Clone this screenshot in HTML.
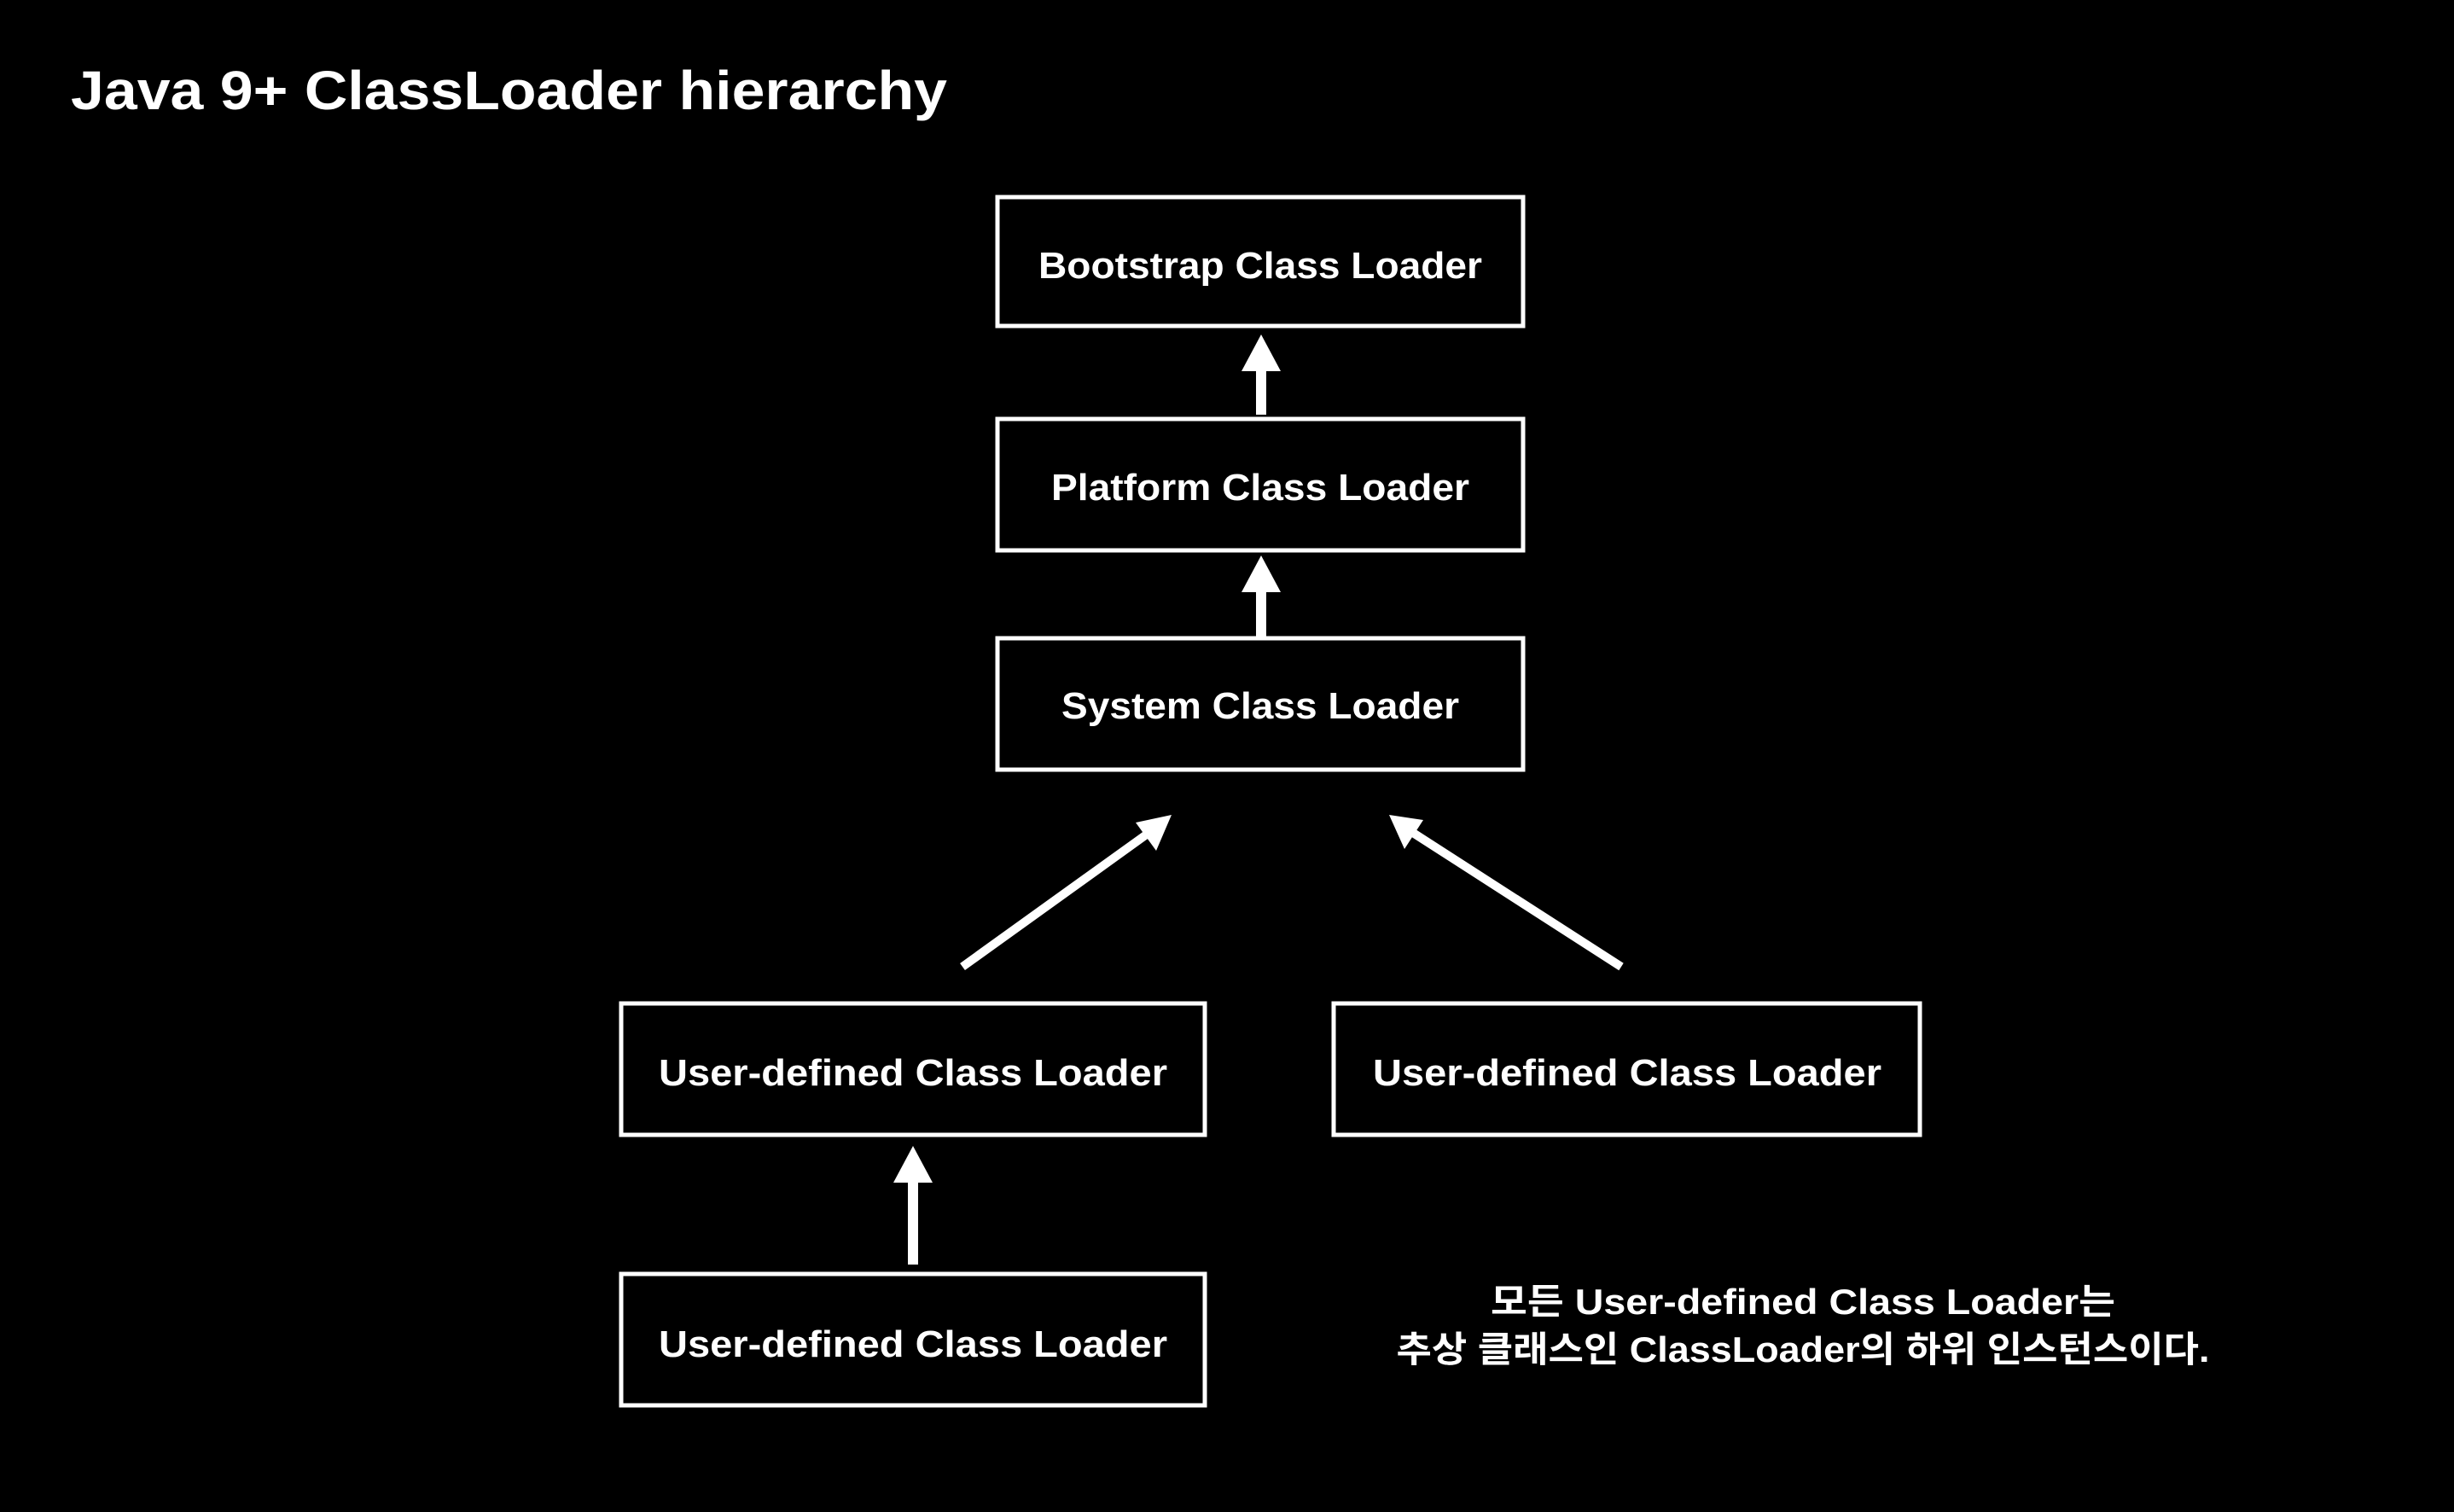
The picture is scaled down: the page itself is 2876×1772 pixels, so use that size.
<!DOCTYPE html>
<html><head><meta charset="utf-8"><style>
html,body{margin:0;padding:0;background:#000;}
svg{display:block;}
text{font-family:"Liberation Sans","Noto Sans CJK KR",sans-serif;font-weight:bold;fill:#fff;}
</style></head><body>
<svg width="2876" height="1772" viewBox="0 0 2876 1772" xmlns="http://www.w3.org/2000/svg">
<rect width="2876" height="1772" fill="#000"/>
<text x="83" y="128" font-size="64" textLength="1027" lengthAdjust="spacingAndGlyphs">Java 9+ ClassLoader hierarchy</text>
<g fill="none" stroke="#fff" stroke-width="5">
<rect x="1169" y="231" width="616" height="151"/>
<rect x="1169" y="491" width="616" height="154"/>
<rect x="1169" y="748" width="616" height="154"/>
<rect x="728" y="1176" width="684" height="154"/>
<rect x="1563" y="1176" width="687" height="154"/>
<rect x="728" y="1493" width="684" height="154"/>
</g>
<g font-size="44" text-anchor="middle">
<text x="1477" y="326" textLength="520" lengthAdjust="spacingAndGlyphs">Bootstrap Class Loader</text>
<text x="1477" y="586" textLength="490" lengthAdjust="spacingAndGlyphs">Platform Class Loader</text>
<text x="1477" y="842" textLength="466" lengthAdjust="spacingAndGlyphs">System Class Loader</text>
<text x="1070" y="1272" textLength="596" lengthAdjust="spacingAndGlyphs">User-defined Class Loader</text>
<text x="1907" y="1272" textLength="596" lengthAdjust="spacingAndGlyphs">User-defined Class Loader</text>
<text x="1070" y="1590" textLength="596" lengthAdjust="spacingAndGlyphs">User-defined Class Loader</text>
<text x="2113" y="1540" font-size="42" textLength="732" lengthAdjust="spacingAndGlyphs">모든 User-defined Class Loader는</text>
<text x="2113" y="1596" font-size="42" textLength="953" lengthAdjust="spacingAndGlyphs">추상 클래스인 ClassLoader의 하위 인스턴스이다.</text>
</g>
<g fill="#fff">
<rect x="1472" y="430" width="12" height="56"/>
<polygon points="1478,392 1455,435 1501,435"/>
<rect x="1472" y="690" width="12" height="56"/>
<polygon points="1478,651 1455,694 1501,694"/>
<rect x="1064" y="1380" width="12" height="102"/>
<polygon points="1070,1343 1047,1386 1093,1386"/>
</g>
<g stroke="#fff" stroke-width="10">
<line x1="1128" y1="1133" x2="1345" y2="977"/>
<line x1="1900" y1="1133" x2="1656" y2="976"/>
</g>
<g fill="#fff">
<polygon points="1373,955 1331,964 1355,997"/>
<polygon points="1628,955 1646,995 1668,961"/>
</g>
</svg>
</body></html>
